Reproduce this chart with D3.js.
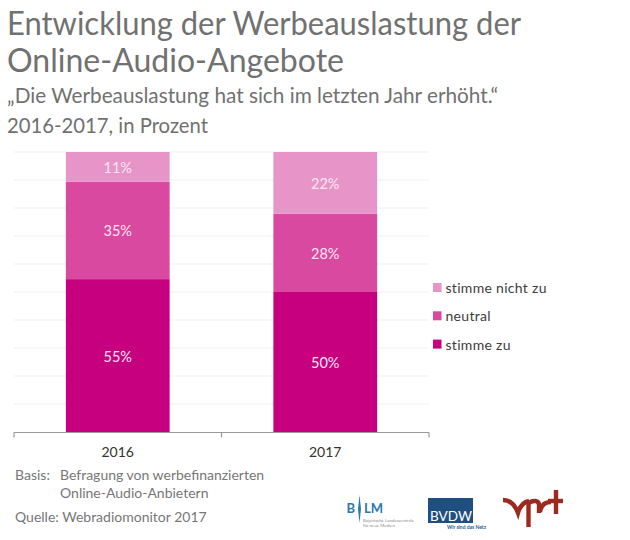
<!DOCTYPE html>
<html><head><meta charset="utf-8">
<script src="https://cdn.jsdelivr.net/npm/d3@7"></script>
<style>html,body{margin:0;background:#fff}svg{display:block}text{font-family:Lato,"Open Sans",sans-serif}</style>
</head><body><svg id="c" width="630" height="540"></svg>
<script>
const years = ["2016", "2017"];
const seriesNames = ["stimme zu", "neutral", "stimme nicht zu"];
const stimmeZu = [54.6, 50];
const neutral = [34.8, 28];
const stimmeNichtZu = [10.6, 22];
const colors = ["#c6007e", "#d9499f", "#e795c8"];
const gridTicks = [10,20,30,40,50,60,70,80,90,100];
const titleLines = ["Entwicklung der Werbeauslastung der", "Online-Audio-Angebote"];
const subtitle = "„Die Werbeauslastung hat sich im letzten Jahr erhöht.“";
const period = "2016-2017, in Prozent";

const svg = d3.select("#c");
const x = d3.scaleBand().domain(years).range([14, 429]);
const y = d3.scaleLinear().domain([0, 100]).range([432, 152]);
const barW = x.bandwidth() / 2;
const grey = "#717171";

svg.selectAll("text.t").data(titleLines).join("text").attr("class","t")
  .attr("x",7).attr("y",(d,i)=>35+i*36.5).attr("font-size",32).attr("fill",grey)
  .attr("textLength",(d,i)=>[514,337][i]).attr("lengthAdjust","spacingAndGlyphs").text(d=>d);
svg.append("text").attr("x",7).attr("y",103).attr("font-size",21).attr("fill",grey)
  .attr("textLength",491).attr("lengthAdjust","spacingAndGlyphs").text(subtitle);
svg.append("text").attr("x",7).attr("y",133).attr("font-size",21).attr("fill",grey)
  .attr("textLength",201).attr("lengthAdjust","spacingAndGlyphs").text(period);

svg.append("g").selectAll("line").data(gridTicks).join("line")
  .attr("x1",14).attr("x2",429).attr("y1",d=>y(d)).attr("y2",d=>y(d))
  .attr("stroke","#efefef").attr("stroke-width",1);

const table = years.map((yr,i)=>({year:yr,"stimme zu":stimmeZu[i],"neutral":neutral[i],"stimme nicht zu":stimmeNichtZu[i]}));
const stacked = d3.stack().keys(seriesNames)(table);
const g = svg.append("g").selectAll("g").data(stacked).join("g").attr("fill",(d,i)=>colors[i]);
g.selectAll("rect").data(d=>d).join("rect")
  .attr("x",d=>x(d.data.year)+barW/2).attr("width",barW)
  .attr("y",d=>y(d[1])).attr("height",d=>y(d[0])-y(d[1]));
g.selectAll("text").data(d=>d).join("text")
  .attr("x",d=>x(d.data.year)+barW)
  .attr("y",d=>(y(d[0])+y(d[1]))/2+6)
  .attr("text-anchor","middle").attr("font-size",14.5).attr("fill","#fbe6f2")
  .text(d=>d3.format(".0f")(d[1]-d[0])+"%");

const ax = svg.append("g").attr("transform","translate(0,432.5)");
ax.append("line").attr("x1",14).attr("x2",429).attr("stroke","#9a9a9a").attr("stroke-width",1.2);
ax.selectAll("line.b").data(x.domain().map(d=>x(d)).concat([x.range()[1]])).join("line").attr("class","b")
  .attr("x1",d=>d).attr("x2",d=>d).attr("y1",0).attr("y2",5).attr("stroke","#9a9a9a").attr("stroke-width",1.2);
ax.selectAll("text.yl").data(years).join("text").attr("class","yl")
  .attr("x",d=>x(d)+x.bandwidth()/2).attr("y",24).attr("text-anchor","middle")
  .attr("font-size",14).attr("fill","#333").text(d=>d);

const legendOrder = [2,1,0];
const lg = svg.append("g").selectAll("g").data(legendOrder).join("g")
  .attr("transform",(d,i)=>`translate(433,${283+i*28.3})`);
lg.append("rect").attr("width",8.5).attr("height",9).attr("fill",d=>colors[d]);
lg.append("text").attr("x",12.5).attr("y",10).attr("font-size",14).attr("letter-spacing",0.3).attr("fill","#3d3d3d").text(d=>seriesNames[d]);

const foot = [["Basis:",15,480],["Befragung von werbefinanzierten",60,480],["Online-Audio-Anbietern",60,498],["Quelle: Webradiomonitor 2017",15,522]];
svg.append("g").selectAll("text").data(foot).join("text")
  .attr("x",d=>d[1]).attr("y",d=>d[2]).attr("font-size",14).attr("fill","#777").text(d=>d[0]);

// logos
const blm = svg.append("g");
blm.append("text").attr("x",346.5).attr("y",513).attr("font-size",13).attr("font-weight",700).attr("fill","#2a78b0").text("B");
blm.append("path").attr("d","M359.5 495 L361 509 L359.5 523 L358 509 Z").attr("fill","#2a78b0");
blm.append("text").attr("x",364).attr("y",513).attr("font-size",13).attr("font-weight",700).attr("fill","#2a78b0").text("LM");
blm.append("text").attr("x",363).attr("y",522).attr("font-size",4.4).attr("fill","#888").attr("textLength",51).text("Bayerische Landeszentrale");
blm.append("text").attr("x",363).attr("y",527).attr("font-size",4.4).attr("fill","#888").text("für neue Medien");
const bv = svg.append("g");
bv.append("rect").attr("x",428).attr("y",498).attr("width",45).attr("height",25).attr("fill","#1f4e80");
bv.append("text").attr("x",430).attr("y",521).attr("font-size",14).attr("fill","#fff").attr("textLength",42).attr("lengthAdjust","spacingAndGlyphs").text("BVDW");
bv.append("text").attr("x",447).attr("y",529).attr("font-size",5).attr("font-weight",700).attr("fill","#2a5a8c").attr("textLength",39).text("Wir sind das Netz");
const vp = svg.append("g").attr("fill","none").attr("stroke","#9c2a1f").attr("stroke-width",4.4);
["M503 500 C511 500 515 505 518 513 C520 506 523 502 529 501",
 "M528.5 502 L528.5 527",
 "M528.5 503 C533 500 539 500 539 505 L539 513",
 "M540 512 C541 505 545 502 551 502",
 "M556 490 L556 514",
 "M548 501 L563 501"].forEach(d=>vp.append("path").attr("d",d));
</script></body></html>
